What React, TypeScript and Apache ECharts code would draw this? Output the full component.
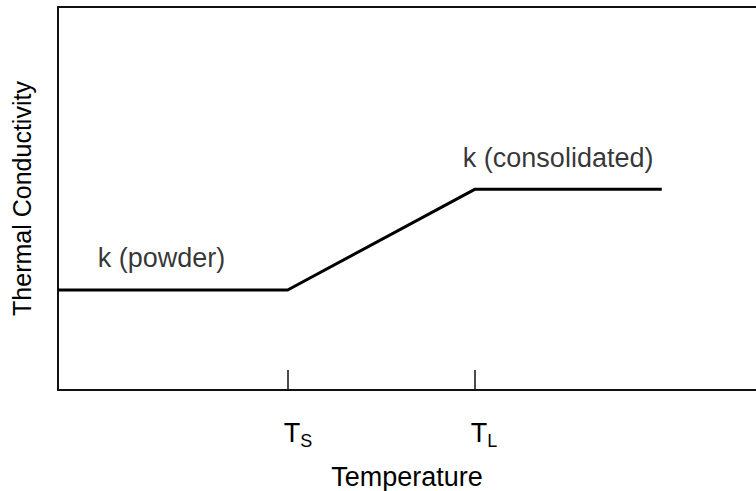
import React, { useEffect, useRef } from "react";
import * as echarts from "echarts";

// Temperature (arbitrary units, 0–100) and thermal conductivity (arbitrary units, 0–100)
const TEMP_MIN = 0;
const TEMP_MAX = 100;
const K_MIN = 0;
const K_MAX = 100;

// Characteristic temperatures: solidus and liquidus
const T_SOLIDUS = 32.9;
const T_LIQUIDUS = 59.7;
const TICK_VALUES = [T_SOLIDUS, T_LIQUIDUS];
const TICK_LABELS = ["{t|T}{s|S}", "{t|T}{s|L}"];

// Conductivity curve: constant powder level, linear rise, constant consolidated level
const curveTemps = [0, T_SOLIDUS, T_LIQUIDUS, 86.5];
const curveK = [26.1, 26.1, 52.4, 52.4];

// Annotations placed in data coordinates
const noteNames = ["k (powder)", "k (consolidated)"];
const noteTemps = [5.7, 58.0];
const noteK = [34.4, 60.5];

const FONT = "'Liberation Sans', Arial, Helvetica, sans-serif";
const FS = 27;

export default function App() {
  const ref = useRef<HTMLDivElement>(null);

  useEffect(() => {
    if (!ref.current) return;
    const chart = echarts.init(ref.current, null, { renderer: "svg" });

    const axisLine = { show: true, lineStyle: { color: "#111", width: 2 } };

    chart.setOption({
      animation: false,
      backgroundColor: "#fff",
      textStyle: { fontFamily: FONT },
      grid: { left: 58, right: 0, top: 7, bottom: 101, outerBoundsMode: "none", containLabel: false },
      xAxis: [
        {
          type: "value",
          position: "bottom",
          min: TEMP_MIN,
          max: TEMP_MAX,
          name: "Temperature",
          nameLocation: "middle",
          nameGap: 73,
          nameTextStyle: { fontSize: FS, color: "#000", fontFamily: FONT },
          axisLine,
          splitLine: { show: false },
          axisTick: {
            show: true,
            inside: true,
            length: 20,
            customValues: TICK_VALUES,
            lineStyle: { color: "#111", width: 1.5 },
          },
          axisLabel: {
            show: true,
            customValues: TICK_VALUES,
            align: "left",
            margin: 29,
            padding: [0, 0, 0, -4],
            formatter: (v: number) => TICK_LABELS[TICK_VALUES.indexOf(v)] ?? "",
            rich: {
              t: { fontSize: FS, color: "#000", fontFamily: FONT, padding: [0, 0, 4, 0] },
              s: { fontSize: 18, color: "#000", fontFamily: FONT, verticalAlign: "bottom" },
            },
          },
        },
        {
          type: "value",
          position: "top",
          min: TEMP_MIN,
          max: TEMP_MAX,
          axisLine,
          axisTick: { show: false },
          axisLabel: { show: false },
          splitLine: { show: false },
        },
      ],
      yAxis: {
        type: "value",
        min: K_MIN,
        max: K_MAX,
        name: "Thermal Conductivity",
        nameLocation: "middle",
        nameGap: 24,
        nameTextStyle: { fontSize: 25, color: "#000", fontFamily: FONT },
        axisLine,
        axisTick: { show: false },
        axisLabel: { show: false },
        splitLine: { show: false },
      },
      series: [
        {
          type: "line",
          data: curveTemps.map((t, i) => [t, curveK[i]]),
          symbol: "none",
          lineStyle: { color: "#000", width: 3 },
        },
        {
          type: "scatter",
          symbolSize: 0,
          data: noteNames.map((n, i) => ({ name: n, value: [noteTemps[i], noteK[i]] })),
          label: {
            show: true,
            position: [0, 0],
            align: "left",
            verticalAlign: "middle",
            formatter: (p: any) => p.name,
            fontSize: FS,
            color: "#000",
            fontFamily: FONT,
          },
        },
      ],
    });

    return () => chart.dispose();
  }, []);

  return (
    <div
      ref={ref}
      style={{ position: "fixed", left: 0, top: 0, width: 756, height: 491, background: "#fff" }}
    />
  );
}
